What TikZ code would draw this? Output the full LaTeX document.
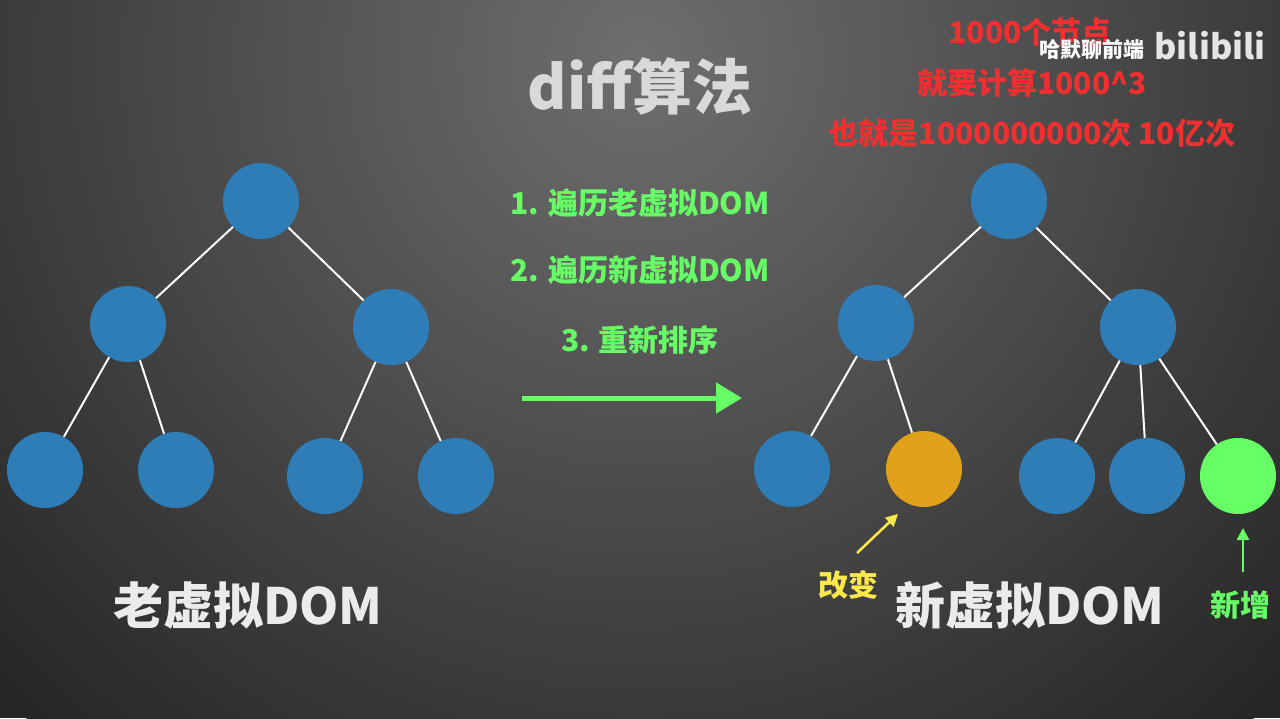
\documentclass[tikz,border=0pt]{standalone}
\usepackage{fontspec}
\setmainfont{Noto Sans CJK SC}
\usetikzlibrary{arrows.meta}
\definecolor{bgdark}{HTML}{262626}
\definecolor{bglight}{HTML}{6E6E6E}
\definecolor{nodeblue}{HTML}{2E7DB6}
\definecolor{nodeorange}{HTML}{E0A11B}
\definecolor{nodegreen}{HTML}{66FF66}
\definecolor{txtgreen}{HTML}{66FF66}
\definecolor{txtred}{HTML}{F03030}
\definecolor{txtyellow}{HTML}{FFE84A}
\tikzset{
  vn/.style={circle,fill=nodeblue,minimum size=76pt,inner sep=0pt},
  edge/.style={white,line width=2pt},
  fs/.style={font=\fontsize{#1}{#1}\selectfont\bfseries}
}
\begin{document}
\begin{tikzpicture}[x=1pt,y=-1pt]
\useasboundingbox (0,0) rectangle (1280,718);
\fill[bgdark] (0,0) rectangle (1280,718);
\begin{scope}
\clip (0,0) rectangle (1280,718);
\shade[inner color=bglight,outer color=bgdark] (640,60) circle (900);
\end{scope}
% left tree
\node[vn] (a) at (261,201) {};
\node[vn] (b) at (128,324) {};
\node[vn] (c) at (391,327) {};
\node[vn] (d) at (45,470) {};
\node[vn] (e) at (176,470) {};
\node[vn] (f) at (325,476) {};
\node[vn] (g) at (456,476) {};
\draw[edge] (a)--(b); \draw[edge] (a)--(c);
\draw[edge] (b)--(d); \draw[edge] (b)--(e);
\draw[edge] (c)--(f); \draw[edge] (c)--(g);
% right tree
\node[vn] (A) at (1009,201) {};
\node[vn] (B) at (876,323) {};
\node[vn] (C) at (1138,327) {};
\node[vn] (D) at (792,469) {};
\node[vn,fill=nodeorange] (E) at (924,469) {};
\node[vn] (F) at (1057,476) {};
\node[vn] (G) at (1147,476) {};
\node[vn,fill=nodegreen] (H) at (1238,476) {};
\draw[edge] (A)--(B); \draw[edge] (A)--(C);
\draw[edge] (B)--(D); \draw[edge] (B)--(E);
\draw[edge] (C)--(F); \draw[edge] (C)--(G); \draw[edge] (C)--(H);
% texts
\node[fs=60,text=white!85!black] (title) at (640,86) {diff算法};
\node[fs=30,text=txtgreen] (s1) at (640,203) {1. 遍历老虚拟DOM};
\node[fs=30,text=txtgreen] (s2) at (640,270) {2. 遍历新虚拟DOM};
\node[fs=30,text=txtgreen] (s3) at (640,340) {3. 重新排序};
\coordinate (ar1) at (522,398);
\coordinate (ar2) at (742,398);
\draw[txtgreen,line width=5pt,-{Triangle[length=26pt,width=30pt]}] (ar1)--(ar2);
\node[fs=30,text=txtred] (r1) at (1030,32) {1000个节点};
\node[fs=30,text=txtred] (r2) at (1032,83) {就要计算1000\^{}3};
\node[fs=30,text=txtred] (r3) at (1032,133) {也就是1000000000次 10亿次};
\node[fs=21,text=white] (wm) at (1092,50) {哈默聊前端};
\node[font=\fontsize{34}{34}\selectfont\bfseries\itshape,text=white!90!black] (bl) at (1210,46) {bilibili};
\node[fs=50,text=white!92!black] (old) at (248,605) {老虚拟DOM};
\node[fs=50,text=white!92!black] (new) at (1030,605) {新虚拟DOM};
\node[fs=30,text=txtyellow] (chg) at (848,585) {改变};
\node[fs=30,text=txtgreen] (add) at (1240,605) {新增};
\coordinate (y1) at (857,553);
\coordinate (y2) at (898,514);
\draw[txtyellow,line width=2.5pt,-{Triangle[length=12pt,width=12pt]}] (y1)--(y2);
\coordinate (g1) at (1243,572);
\coordinate (g2) at (1243,528);
\draw[txtgreen,line width=2.5pt,-{Triangle[length=12pt,width=12pt]}] (g1)--(g2);
\end{tikzpicture}
\end{document}
